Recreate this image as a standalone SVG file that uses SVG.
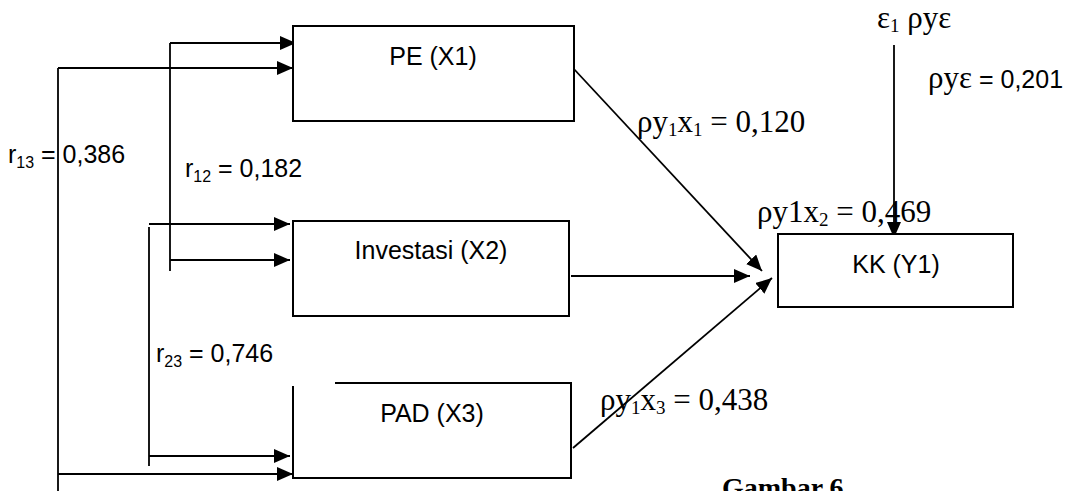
<svg xmlns="http://www.w3.org/2000/svg" width="1068" height="491" viewBox="0 0 1068 491">
<style>
.box{fill:#fff;stroke:#000;stroke-width:2}
.ln{fill:none;stroke:#000;stroke-width:1.8}
.sans{font-family:"Liberation Sans",Arial,sans-serif;font-size:25px;fill:#000}
.serif{font-family:"Liberation Serif","Times New Roman",serif;font-size:31px;fill:#000}
.sub{font-size:19px}
.ssub{font-size:16px}
</style>
<defs>
<marker id="ah" markerWidth="16" markerHeight="14" refX="16" refY="7" orient="auto" markerUnits="userSpaceOnUse">
<path d="M0,0 L16,7 L0,14 z" fill="#000"/>
</marker>
</defs>
<rect width="1068" height="491" fill="#fff"/>
<g id="connectors">
<path class="ln" d="M58,68 V491"/>
<path class="ln" d="M58,68 H293" marker-end="url(#ah)"/>
<path class="ln" d="M58,474 H293" marker-end="url(#ah)"/>
<path class="ln" d="M170,43 V271"/>
<path class="ln" d="M170,43 H296" marker-end="url(#ah)"/>
<path class="ln" d="M170,260 H290" marker-end="url(#ah)"/>
<path class="ln" d="M149,227 V466"/>
<path class="ln" d="M149,224 H290" marker-end="url(#ah)"/>
<path class="ln" d="M149,456 H290" marker-end="url(#ah)"/>
<path class="ln" d="M573,68 L762,271" marker-end="url(#ah)"/>
<path class="ln" d="M571,276 H750" marker-end="url(#ah)"/>
<path class="ln" d="M573,448 L772,278" marker-end="url(#ah)"/>
<path class="ln" d="M894,45 V238" marker-end="url(#ah)"/>
</g>
<g id="pe">
<rect class="box" x="293" y="26" width="281" height="95"/>
<text class="sans" x="433" y="65" text-anchor="middle">PE (X1)</text>
</g>
<g id="investasi">
<rect class="box" x="293" y="221" width="276" height="95"/>
<text class="sans" x="431" y="259" text-anchor="middle">Investasi (X2)</text>
</g>
<g id="pad">
<path class="box" d="M335,383 H571 V478 H293 V386"/>
<text class="sans" x="432" y="422" text-anchor="middle">PAD (X3)</text>
</g>
<g id="kk">
<rect class="box" x="778" y="234" width="235" height="73"/>
<text class="sans" x="896" y="273" text-anchor="middle">KK (Y1)</text>
</g>
<g id="labels">
<text class="sans" x="8" y="163">r<tspan class="ssub" dy="5">13</tspan><tspan dy="-5"> = 0,386</tspan></text>
<text class="sans" x="185" y="177">r<tspan class="ssub" dy="5">12</tspan><tspan dy="-5"> = 0,182</tspan></text>
<text class="sans" x="156" y="362">r<tspan class="ssub" dy="5">23</tspan><tspan dy="-5"> = 0,746</tspan></text>
<text class="serif" x="637" y="132">ρy<tspan class="sub" dy="4">1</tspan><tspan dy="-4">x</tspan><tspan class="sub" dy="4">1</tspan><tspan dy="-4"> = 0,120</tspan></text>
<text class="serif" x="757" y="222">ρy1x<tspan class="sub" dy="4">2</tspan><tspan dy="-4"> = 0,469</tspan></text>
<text class="serif" x="600" y="410">ρy<tspan class="sub" dy="4">1</tspan><tspan dy="-4">x</tspan><tspan class="sub" dy="4">3</tspan><tspan dy="-4"> = 0,438</tspan></text>
<text class="serif" x="877" y="28">ε<tspan class="sub" dy="4">1</tspan><tspan dy="-4"> ρyε</tspan></text>
<text class="serif" x="928" y="88">ρyε<tspan class="sans" font-size="25"> = 0,201</tspan></text>
<text x="722" y="497" font-family="Liberation Serif,'Times New Roman',serif" font-weight="bold" font-size="28">Gambar 6</text>
</g>
</svg>
